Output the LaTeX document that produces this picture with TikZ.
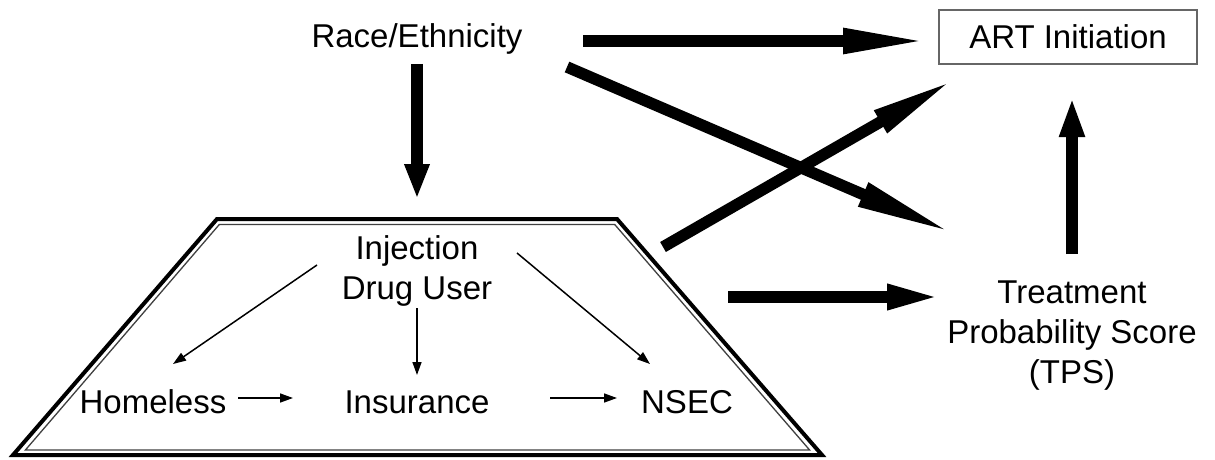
\documentclass[tikz,border=0pt]{standalone}
\usepackage{fontspec}
\setmainfont{Liberation Sans}
\usetikzlibrary{arrows.meta}
\begin{document}
\begin{tikzpicture}[x=1pt,y=-1pt,
 lbl/.style={inner sep=0pt, font=\fontsize{33}{40}\selectfont, align=center},
 bigarrow/.style={line width=11.5pt, -{Triangle[length=#1,width=23pt]}},
 bigarrow/.default=86pt,
 thinarrow/.style={line width=1.5pt, -{Triangle[length=13pt,width=9pt]}},
 outerline/.style={line width=4pt, line join=miter},
 innerline/.style={line width=1.3pt, draw=black!75, line join=miter},
 artbox/.style={draw=black!60, line width=1.3pt, minimum width=258pt, minimum height=54pt, text depth=0pt}
]
\useasboundingbox (0,0) rectangle (1215,460);

% trapezoid frame
\draw[outerline] (217,219) -- (617,219) -- (822,455) -- (13,455) -- cycle;
\draw[innerline] (219.3,224.5) -- (614.7,224.5) -- (809.6,450) -- (25.4,450) -- cycle;

% text nodes
\node[lbl, anchor=base] (race) at (417,48) {Race/Ethnicity};
\node[lbl, artbox] (art) at (1068,37) {ART Initiation};
\node[lbl, anchor=base] (idu) at (417,299) {Injection\\Drug User};
\node[lbl, anchor=base] (home) at (153,413) {Homeless};
\node[lbl, anchor=base] (ins) at (417,413) {Insurance};
\node[lbl, anchor=base] (nsec) at (687,413) {NSEC};
\node[lbl, anchor=base] (tps) at (1072,383) {Treatment\\Probability Score\\(TPS)};

% connector end points
\coordinate (raceR) at (583,41);   \coordinate (artL) at (929,41);
\coordinate (raceD) at (567,67);   \coordinate (tpsUL) at (955,234);
\coordinate (iduR) at (663,247);   \coordinate (artLL) at (955,79);
\coordinate (iduE) at (728,297);   \coordinate (tpsL) at (941,297);
\coordinate (tpsT) at (1072,254);  \coordinate (artB) at (1072,97);
\coordinate (raceB) at (417,64);   \coordinate (iduT) at (417,199);

\coordinate (iduSW) at (317,265);  \coordinate (homeN) at (173,364);
\coordinate (homeE) at (238,398);  \coordinate (insW) at (293,398);
\coordinate (iduS) at (417,308);   \coordinate (insN) at (417,375);
\coordinate (iduSE) at (517,253);  \coordinate (nsecN) at (650,364);
\coordinate (insE) at (550,398);   \coordinate (nsecW) at (617,398);

% thick connectors
\draw[bigarrow=86pt] (raceR) -- (artL);
\draw[bigarrow=100pt] (raceD) -- (tpsUL);
\draw[bigarrow=86pt] (iduR) -- (artLL);
\draw[bigarrow=54pt] (iduE) -- (tpsL);
\draw[bigarrow=40pt] (tpsT) -- (artB);
\draw[bigarrow=35pt] (raceB) -- (iduT);

% thin connectors
\draw[thinarrow] (iduSW) -- (homeN);
\draw[thinarrow] (homeE) -- (insW);
\draw[thinarrow] (iduS) -- (insN);
\draw[thinarrow] (iduSE) -- (nsecN);
\draw[thinarrow] (insE) -- (nsecW);
\end{tikzpicture}
\end{document}
